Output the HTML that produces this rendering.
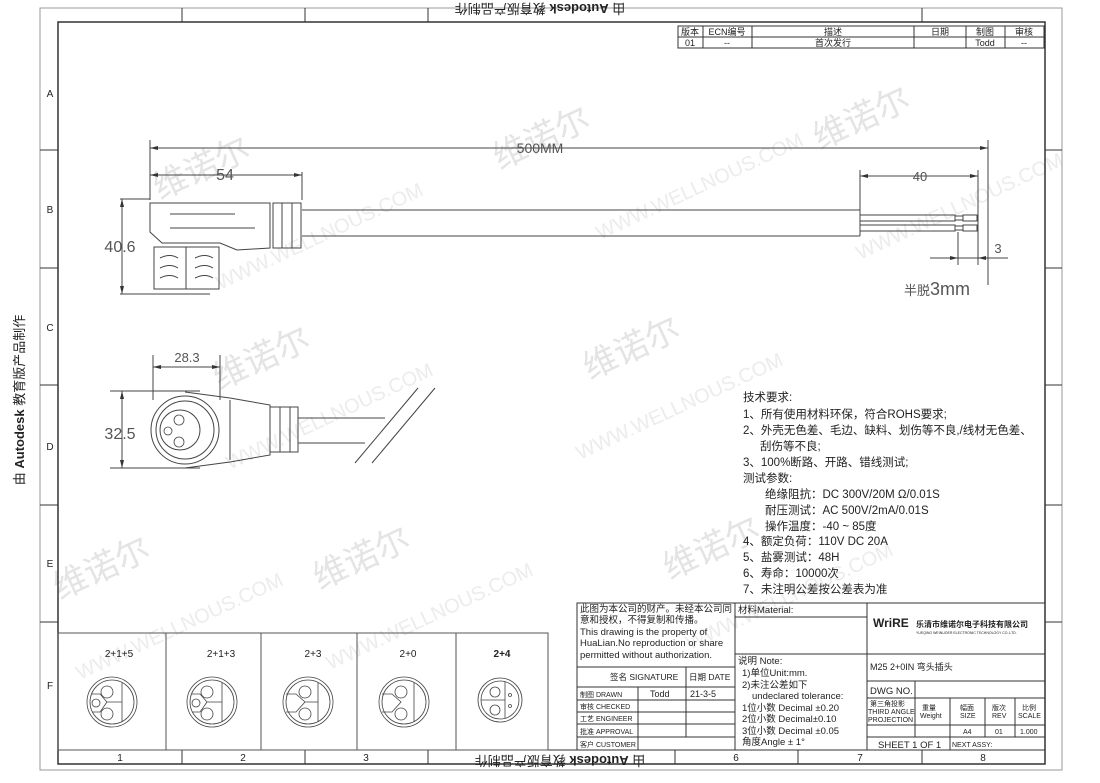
<!DOCTYPE html>
<html><head><meta charset="utf-8"><style>
body{margin:0;background:#fff}
svg text{font-family:"Liberation Sans","Noto Sans CJK SC",sans-serif;fill:#222}
</style></head><body>
<svg width="1100" height="778" viewBox="0 0 1100 778" xmlns="http://www.w3.org/2000/svg">
<!-- watermarks -->
<g font-size="34">
<text x="160" y="200" transform="rotate(-25 160 200)" style="fill:#e4e4e4">维诺尔</text>
<text x="500" y="170" transform="rotate(-25 500 170)" style="fill:#e4e4e4">维诺尔</text>
<text x="820" y="150" transform="rotate(-25 820 150)" style="fill:#e4e4e4">维诺尔</text>
<text x="220" y="390" transform="rotate(-25 220 390)" style="fill:#e4e4e4">维诺尔</text>
<text x="590" y="380" transform="rotate(-25 590 380)" style="fill:#e4e4e4">维诺尔</text>
<text x="60" y="600" transform="rotate(-25 60 600)" style="fill:#e4e4e4">维诺尔</text>
<text x="320" y="590" transform="rotate(-25 320 590)" style="fill:#e4e4e4">维诺尔</text>
<text x="670" y="580" transform="rotate(-25 670 580)" style="fill:#e4e4e4">维诺尔</text>
</g>
<g font-size="20">
<text x="220" y="290" transform="rotate(-25 220 290)" style="fill:#ececec">WWW.WELLNOUS.COM</text>
<text x="600" y="240" transform="rotate(-25 600 240)" style="fill:#ececec">WWW.WELLNOUS.COM</text>
<text x="860" y="260" transform="rotate(-25 860 260)" style="fill:#ececec">WWW.WELLNOUS.COM</text>
<text x="230" y="470" transform="rotate(-25 230 470)" style="fill:#ececec">WWW.WELLNOUS.COM</text>
<text x="580" y="460" transform="rotate(-25 580 460)" style="fill:#ececec">WWW.WELLNOUS.COM</text>
<text x="80" y="680" transform="rotate(-25 80 680)" style="fill:#ececec">WWW.WELLNOUS.COM</text>
<text x="330" y="670" transform="rotate(-25 330 670)" style="fill:#ececec">WWW.WELLNOUS.COM</text>
<text x="690" y="650" transform="rotate(-25 690 650)" style="fill:#ececec">WWW.WELLNOUS.COM</text>
</g>
<g stroke="#333" fill="none" stroke-width="1">
<rect x="40" y="8" width="1022" height="762" stroke="#999"/>
<rect x="58" y="22" width="987" height="742" stroke-width="1.5"/>
<line x1="40" y1="150" x2="58" y2="150"/><line x1="40" y1="268" x2="58" y2="268"/>
<line x1="40" y1="385" x2="58" y2="385"/><line x1="40" y1="505" x2="58" y2="505"/>
<line x1="40" y1="622" x2="58" y2="622"/>
<line x1="1045" y1="150" x2="1062" y2="150"/><line x1="1045" y1="268" x2="1062" y2="268"/>
<line x1="1045" y1="385" x2="1062" y2="385"/><line x1="1045" y1="505" x2="1062" y2="505"/>
<line x1="1045" y1="622" x2="1062" y2="622"/>
<line x1="58" y1="750" x2="1045" y2="750"/>
<line x1="182" y1="750" x2="182" y2="764"/><line x1="305" y1="750" x2="305" y2="764"/>
<line x1="428" y1="750" x2="428" y2="764"/><line x1="675" y1="750" x2="675" y2="764"/>
<line x1="798" y1="750" x2="798" y2="764"/><line x1="922" y1="750" x2="922" y2="764"/>
<line x1="182" y1="8" x2="182" y2="22"/><line x1="305" y1="8" x2="305" y2="22"/><line x1="428" y1="8" x2="428" y2="22"/><line x1="922" y1="8" x2="922" y2="22"/>
</g>
<g font-size="10" text-anchor="middle">
<text x="50" y="97">A</text><text x="50" y="213">B</text><text x="50" y="331">C</text><text x="50" y="450">D</text><text x="50" y="567">E</text><text x="50" y="689">F</text>
<text x="120" y="761">1</text><text x="243" y="761">2</text><text x="366" y="761">3</text><text x="736" y="761">6</text><text x="860" y="761">7</text><text x="983" y="761">8</text>
</g>
<text x="24" y="400" font-size="13" transform="rotate(-90 24 400)" text-anchor="middle">由 <tspan font-weight="bold">Autodesk</tspan> 教育版产品制作</text>
<text x="560" y="748" font-size="13" transform="rotate(180 560 752)" text-anchor="middle">由 <tspan font-weight="bold">Autodesk</tspan> 教育版产品制作</text>
<text x="540" y="-4" font-size="13" transform="rotate(180 540 0)" text-anchor="middle">由 <tspan font-weight="bold">Autodesk</tspan> 教育版产品制作</text>

<!-- revision table -->
<g stroke="#333" fill="none" stroke-width="1">
<rect x="678" y="26" width="366" height="22"/>
<line x1="678" y1="37" x2="1044" y2="37"/>
<line x1="703" y1="26" x2="703" y2="48"/><line x1="752" y1="26" x2="752" y2="48"/>
<line x1="914" y1="26" x2="914" y2="48"/><line x1="966" y1="26" x2="966" y2="48"/><line x1="1005" y1="26" x2="1005" y2="48"/>
</g>
<g font-size="9" text-anchor="middle">
<text x="690" y="35">版本</text><text x="727" y="35">ECN编号</text><text x="833" y="35">描述</text><text x="940" y="35">日期</text><text x="985" y="35">制图</text><text x="1024" y="35">审核</text>
<text x="690" y="46">01</text><text x="727" y="46">--</text><text x="833" y="46">首次发行</text><text x="985" y="46">Todd</text><text x="1024" y="46">--</text>
</g>

<!-- top view connector -->
<g stroke="#444" fill="none" stroke-width="1">
<line x1="150" y1="150" x2="150" y2="200"/><line x1="302" y1="172" x2="302" y2="200"/>
<line x1="150" y1="175" x2="302" y2="175"/>
<line x1="150" y1="148" x2="988" y2="148"/>
<line x1="150" y1="140" x2="150" y2="170"/>
<line x1="988" y1="140" x2="988" y2="285"/>
<path d="M150 203 L150 232 L162 243 L220 243 L237 250 L270 248 L270 203 Z"/>
<rect x="273" y="203" width="28" height="45"/>
<line x1="282" y1="203" x2="282" y2="248"/><line x1="292" y1="203" x2="292" y2="248"/>
<line x1="170" y1="214" x2="235" y2="214"/><line x1="170" y1="228" x2="255" y2="228"/>
<line x1="302" y1="210" x2="860" y2="210"/><line x1="302" y1="236" x2="860" y2="236"/>
<line x1="860" y1="210" x2="860" y2="236"/>
<rect x="860" y="215" width="95" height="6"/><rect x="860" y="225" width="95" height="6"/>
<rect x="955" y="216" width="8" height="4"/><rect x="955" y="226" width="8" height="4"/>
<rect x="963" y="215" width="14" height="6"/><rect x="963" y="225" width="14" height="6"/>
<line x1="860" y1="170" x2="860" y2="210"/><line x1="978" y1="170" x2="978" y2="265"/>
<line x1="860" y1="176" x2="978" y2="176"/>
<line x1="958" y1="232" x2="958" y2="265"/>
<line x1="930" y1="258" x2="1008" y2="258"/>
<rect x="154" y="247" width="65" height="42"/>
<line x1="186" y1="247" x2="186" y2="289"/>
<path d="M160 258 q10-5 18 0 M160 268 q10-5 18 0 M160 278 q10-5 18 0 M195 258 q10-5 18 0 M195 268 q10-5 18 0 M195 278 q10-5 18 0"/>
<line x1="120" y1="199" x2="150" y2="199"/><line x1="120" y1="294" x2="210" y2="294"/>
<line x1="122" y1="199" x2="122" y2="294"/>
<!-- front view -->
<line x1="153" y1="355" x2="153" y2="400"/><line x1="220" y1="355" x2="220" y2="400"/>
<line x1="153" y1="367" x2="220" y2="367"/>
<line x1="110" y1="391" x2="200" y2="391"/><line x1="110" y1="468" x2="200" y2="468"/>
<line x1="122" y1="391" x2="122" y2="468"/>
<circle cx="185" cy="430" r="34"/><circle cx="185" cy="430" r="29"/>
<circle cx="180" cy="430" r="20"/>
<path d="M185 392 L230 398 L270 405 L270 455 L230 462 L185 468"/>
<line x1="230" y1="400" x2="230" y2="460"/>
<rect x="270" y="407" width="28" height="45"/>
<line x1="280" y1="407" x2="280" y2="452"/><line x1="290" y1="407" x2="290" y2="452"/>
<line x1="298" y1="418" x2="385" y2="418"/><line x1="298" y1="443" x2="365" y2="443"/>
<line x1="355" y1="463" x2="418" y2="388"/><line x1="372" y1="463" x2="435" y2="388"/>
</g>
<g stroke="#444" fill="none" stroke-width="0.8">
<circle cx="179" cy="420" r="5"/><circle cx="179" cy="442" r="5"/><circle cx="168" cy="431" r="4"/>
</g>
<g fill="#333">
<path d="M150 175 l8 -2 v4z M302 175 l-8 -2 v4z M150 148 l8 -2 v4z M988 148 l-8 -2 v4z M860 176 l8 -2 v4z M978 176 l-8 -2 v4z M958 258 l-8 -2 v4z M978 258 l8 -2 v4z M122 199 l-2 8 h4z M122 294 l-2 -8 h4z M153 367 l8 -2 v4z M220 367 l-8 -2 v4z M122 391 l-2 8 h4z M122 468 l-2 -8 h4z"/>
</g>
<g font-size="15" fill="#444" text-anchor="middle">
<text x="540" y="153" style="fill:#555;font-size:14px">500MM</text>
<text x="225" y="180" style="fill:#555;font-size:16px">54</text>
<text x="920" y="181" style="fill:#555;font-size:13px">40</text>
<text x="998" y="253" style="fill:#555;font-size:13px">3</text>
<text x="120" y="252" style="fill:#555;font-size:16px">40.6</text>
<text x="187" y="362" style="fill:#555;font-size:13px">28.3</text>
<text x="120" y="439" style="fill:#555;font-size:16px">32.5</text>
<text x="937" y="295" style="fill:#555;font-size:18px"><tspan font-size="13">半脱</tspan>3mm</text>
</g>

<!-- tech requirements -->
<g font-size="11.5">
<text x="743" y="401">技术要求:</text>
<text x="743" y="418">1、所有使用材料环保，符合ROHS要求;</text>
<text x="743" y="434">2、外壳无色差、毛边、缺料、划伤等不良,/线材无色差、</text>
<text x="760" y="450">刮伤等不良;</text>
<text x="743" y="466">3、100%断路、开路、错线测试;</text>
<text x="743" y="482">测试参数:</text>
<text x="765" y="498">绝缘阻抗：DC 300V/20M Ω/0.01S</text>
<text x="765" y="514">耐压测试：AC 500V/2mA/0.01S</text>
<text x="765" y="530">操作温度：-40 ~ 85度</text>
<text x="743" y="545">4、额定负荷：110V  DC   20A</text>
<text x="743" y="561">5、盐雾测试：48H</text>
<text x="743" y="577">6、寿命：10000次</text>
<text x="743" y="593">7、未注明公差按公差表为准</text>
</g>

<!-- pin tables -->
<g stroke="#555" fill="none">
<rect x="58" y="633" width="490" height="117"/>
<line x1="166" y1="633" x2="166" y2="750"/><line x1="261" y1="633" x2="261" y2="750"/>
<line x1="357" y1="633" x2="357" y2="750"/><line x1="456" y1="633" x2="456" y2="750"/>
</g>
<g font-size="10" text-anchor="middle">
<text x="119" y="657">2+1+5</text><text x="221" y="657">2+1+3</text><text x="313" y="657">2+3</text><text x="408" y="657">2+0</text><text x="502" y="657" font-weight="bold">2+4</text>
</g>
<g stroke="#444" fill="none" stroke-width="0.8">
<g transform="translate(112,702)"><circle r="25"/><circle r="22"/><circle cx="-5" cy="-10" r="6"/><circle cx="-5" cy="12" r="6"/><circle cx="-16" cy="1" r="4"/><path d="M-20 -8 L-12 -8 L-5 0 L-12 10 L-20 10 M10 -20 L10 20 M-5 0 L10 0"/></g>
<g transform="translate(212,702)"><circle r="25"/><circle r="22"/><circle cx="-5" cy="-10" r="6"/><circle cx="-5" cy="12" r="6"/><circle cx="-16" cy="1" r="4"/><path d="M-20 -8 L-12 -8 L-5 0 L-12 10 L-20 10 M10 -20 L10 20 M-5 0 L10 0"/></g>
<g transform="translate(308,702)"><circle r="25"/><circle r="22"/><circle cx="-3" cy="-10" r="6"/><circle cx="-3" cy="12" r="6"/><path d="M-22 -8 L-12 -8 L-3 0 L-12 10 L-22 10 M10 -20 L10 20 M-3 0 L10 0"/></g>
<g transform="translate(404,702)"><circle r="25"/><circle r="22"/><circle cx="-3" cy="-10" r="6"/><circle cx="-3" cy="12" r="6"/><path d="M-22 -8 L-12 -8 L-3 0 L-12 10 L-22 10 M10 -20 L10 20"/></g>
<g transform="translate(500,700)"><circle r="22"/><circle r="19"/><circle cx="-5" cy="-8" r="5"/><circle cx="-5" cy="10" r="5"/><path d="M-19 0 L5 0 M5 -18 L5 18"/><circle cx="10" cy="-5" r="1.5"/><circle cx="10" cy="6" r="1.5"/></g>
</g>

<!-- title block -->
<g stroke="#333" fill="none" stroke-width="1">
<rect x="577" y="603" width="468" height="147"/>
<line x1="735" y1="603" x2="735" y2="750"/><line x1="867" y1="603" x2="867" y2="750"/>
<line x1="577" y1="667" x2="735" y2="667"/><line x1="735" y1="617" x2="867" y2="617"/><line x1="735" y1="654" x2="867" y2="654"/>
<line x1="577" y1="687" x2="735" y2="687"/><line x1="577" y1="700" x2="735" y2="700"/><line x1="577" y1="712" x2="735" y2="712"/><line x1="577" y1="724" x2="735" y2="724"/><line x1="577" y1="737" x2="735" y2="737"/>
<line x1="638" y1="687" x2="638" y2="750"/><line x1="686" y1="667" x2="686" y2="737"/>
<line x1="867" y1="654" x2="1045" y2="654"/><line x1="867" y1="681" x2="1045" y2="681"/><line x1="867" y1="698" x2="1045" y2="698"/>
<line x1="867" y1="725" x2="1045" y2="725"/><line x1="867" y1="737" x2="1045" y2="737"/>
<line x1="915" y1="681" x2="915" y2="737"/><line x1="950" y1="698" x2="950" y2="750"/><line x1="985" y1="698" x2="985" y2="737"/><line x1="1015" y1="698" x2="1015" y2="737"/>
</g>
<g font-size="9.5">
<text x="580" y="612">此图为本公司的财产。未经本公司同</text>
<text x="580" y="623">意和授权，不得复制和传播。</text>
<text x="580" y="635">This drawing is the property of</text>
<text x="580" y="646">HuaLian.No reproduction or share</text>
<text x="580" y="658">permitted without authorization.</text>
<text x="738" y="613">材料Material:</text>
<text x="738" y="664">说明 Note:</text>
<text x="742" y="676">1)单位Unit:mm.</text>
<text x="742" y="688">2)未注公差如下</text>
<text x="752" y="699">undeclared tolerance:</text>
<text x="742" y="711">1位小数 Decimal ±0.20</text>
<text x="742" y="722">2位小数 Decimal±0.10</text>
<text x="742" y="734">3位小数 Decimal ±0.05</text>
<text x="742" y="745">角度Angle ± 1°</text>
<text x="870" y="670" font-size="9">M25  2+0IN  弯头插头</text>
<text x="870" y="694">DWG NO.</text>
<text x="878" y="748">SHEET  1  OF  1</text>
</g>
<g font-size="7">
<text x="610" y="680" font-size="8.5">签名 SIGNATURE</text><text x="689" y="680" font-size="8.5">日期 DATE</text>
<text x="580" y="697">制图 DRAWN</text><text x="650" y="697" font-size="9">Todd</text><text x="690" y="697" font-size="9">21-3-5</text>
<text x="580" y="709">审核 CHECKED</text><text x="580" y="721">工艺 ENGINEER</text><text x="580" y="734">批准 APPROVAL</text><text x="580" y="747">客户 CUSTOMER</text>
<text x="870" y="706">第三角投影</text><text x="868" y="714">THIRD ANGLE</text><text x="868" y="722">PROJECTION</text>
<text x="922" y="710">重量</text><text x="920" y="718">Weight</text>
<text x="960" y="710">幅面</text><text x="960" y="718">SIZE</text><text x="992" y="710">版次</text><text x="992" y="718">REV</text>
<text x="1022" y="710">比例</text><text x="1018" y="718">SCALE</text>
<text x="963" y="734">A4</text><text x="995" y="734">01</text><text x="1020" y="734">1.000</text>
<text x="952" y="747">NEXT ASSY:</text>
</g>
<text x="873" y="627" font-size="12" font-weight="bold">WriRE</text>
<text x="916" y="627" font-size="8" font-weight="bold">乐清市维诺尔电子科技有限公司</text>
<text x="916" y="634" font-size="3.5">YUEQING WEINUOER ELECTRONIC TECHNOLOGY CO.,LTD.</text>
</svg>
</body></html>
